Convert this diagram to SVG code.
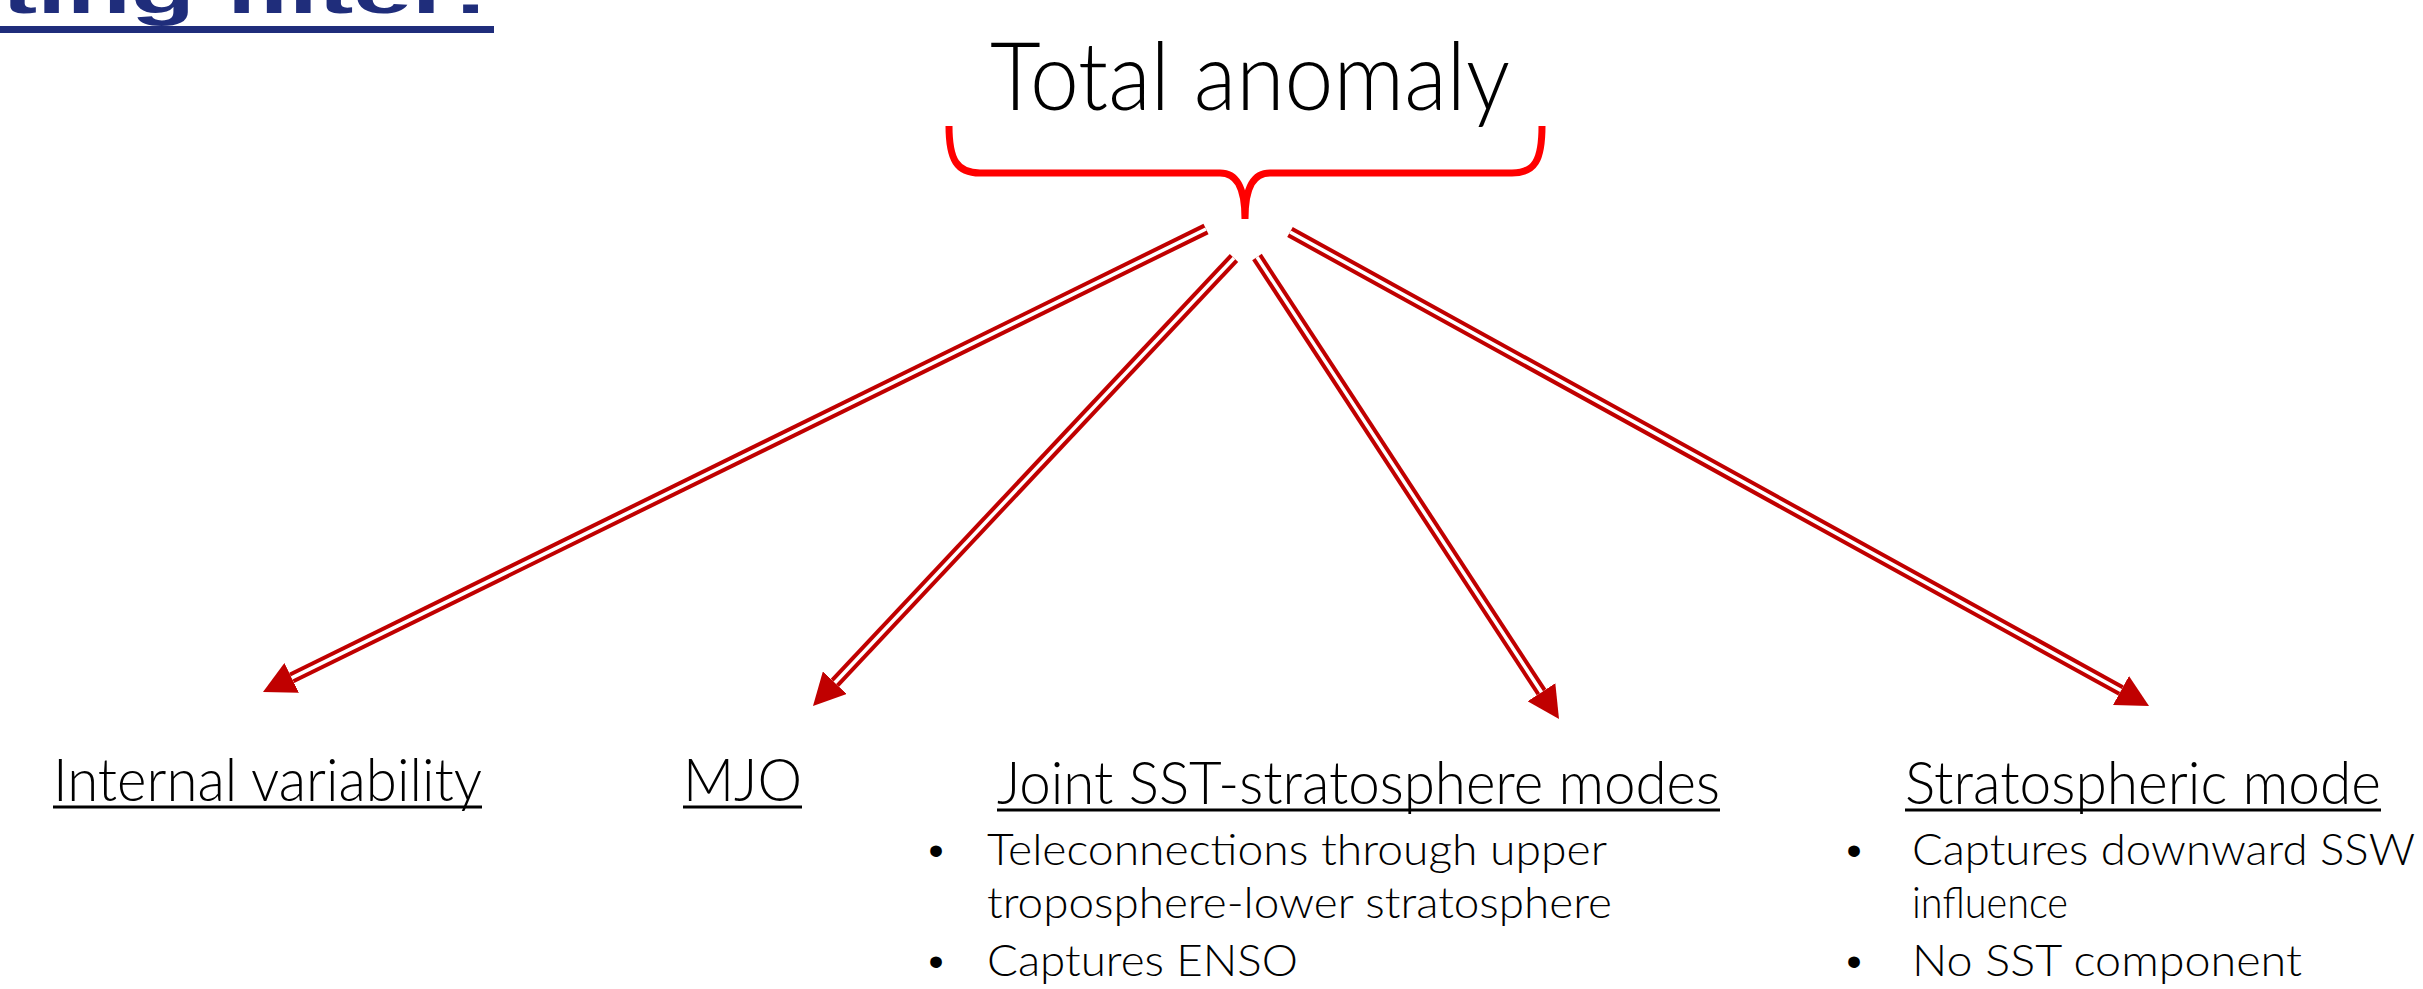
<svg xmlns="http://www.w3.org/2000/svg" width="2423" height="989" viewBox="0 0 2423 989">
<style>
  .lbl { font-family: Lato, "Liberation Sans", sans-serif; font-weight: 300; font-size: 60px; fill: #000; }
  .txt { font-family: Lato, "Liberation Sans", sans-serif; font-weight: 300; font-size: 43px; fill: #000; }
  .bul { font-family: "Liberation Sans", sans-serif; font-size: 43px; fill: #000; text-anchor: middle; }
  .ul { stroke: #000; stroke-width: 3; }
  .dbl-o { stroke: #C00000; stroke-width: 11.5; fill: none; stroke-linecap: butt; }
  .dbl-i { stroke: #FFFFFF; stroke-width: 3.5; fill: none; stroke-linecap: butt; }
</style>
<defs>
  <marker id="head" viewBox="0 0 32 33" refX="0" refY="16.5" markerWidth="32" markerHeight="33" markerUnits="userSpaceOnUse" orient="auto">
    <path d="M0,0 L32,16.5 L0,33 Z" fill="#C00000"/>
  </marker>
</defs>
<rect width="2423" height="989" fill="#FFFFFF"/>

<g id="title">
  <text x="2" y="13" font-family="'Liberation Sans', sans-serif" font-weight="bold" font-size="62" fill="#1F2D7B" textLength="486" lengthAdjust="spacingAndGlyphs">ting filter:</text>
  <rect x="0" y="26" width="494" height="7" fill="#1F2D7B"/>
</g>

<g id="total">
  <text x="990" y="110" font-family="Lato, 'Liberation Sans', sans-serif" font-weight="300" font-size="94" fill="#000" textLength="520" lengthAdjust="spacingAndGlyphs">Total anomaly</text>
  <path d="M949,126 C949,160 957,173 980,173 L1220,173 C1236,173 1245,186 1245,219 C1245,186 1254,173 1270,173 L1512,173 C1535,173 1542,160 1542,126" fill="none" stroke="#FF0000" stroke-width="7"/>
</g>

<g id="connectors">
  <line class="dbl-o" x1="1206" y1="229" x2="291.7" y2="677.9" marker-end="url(#head)"/>
  <line class="dbl-i" x1="1206" y1="229" x2="291.7" y2="677.9"/>
  <line class="dbl-o" x1="1234" y1="258" x2="834.9" y2="682.7" marker-end="url(#head)"/>
  <line class="dbl-i" x1="1234" y1="258" x2="834.9" y2="682.7"/>
  <line class="dbl-o" x1="1257" y1="257" x2="1541.5" y2="692.2" marker-end="url(#head)"/>
  <line class="dbl-i" x1="1257" y1="257" x2="1541.5" y2="692.2"/>
  <line class="dbl-o" x1="1290" y1="232" x2="2121" y2="690.5" marker-end="url(#head)"/>
  <line class="dbl-i" x1="1290" y1="232" x2="2121" y2="690.5"/>
</g>

<g id="internal">
  <text class="lbl" x="53" y="801" textLength="429" lengthAdjust="spacingAndGlyphs">Internal variability</text>
  <line class="ul" x1="53" y1="807" x2="482" y2="807"/>
</g>

<g id="mjo">
  <text class="lbl" x="683" y="801" textLength="119" lengthAdjust="spacingAndGlyphs">MJO</text>
  <line class="ul" x1="683" y1="807" x2="802" y2="807"/>
</g>

<g id="joint">
  <text class="lbl" x="997" y="804" textLength="723" lengthAdjust="spacingAndGlyphs">Joint SST-stratosphere modes</text>
  <line class="ul" x1="997" y1="810" x2="1720" y2="810"/>
  <text class="bul" x="936" y="865">•</text>
  <text class="txt" x="987" y="865" textLength="620" lengthAdjust="spacingAndGlyphs">Teleconnections through upper</text>
  <text class="txt" x="987" y="918" textLength="625" lengthAdjust="spacingAndGlyphs">troposphere-lower stratosphere</text>
  <text class="bul" x="936" y="976">•</text>
  <text class="txt" x="987" y="976" textLength="311" lengthAdjust="spacingAndGlyphs">Captures ENSO</text>
</g>

<g id="strato">
  <text class="lbl" x="1905" y="804" textLength="476" lengthAdjust="spacingAndGlyphs">Stratospheric mode</text>
  <line class="ul" x1="1905" y1="810" x2="2381" y2="810"/>
  <text class="bul" x="1854" y="865">•</text>
  <text class="txt" x="1912" y="865" textLength="503" lengthAdjust="spacingAndGlyphs">Captures downward SSW</text>
  <text class="txt" x="1912" y="918" textLength="156" lengthAdjust="spacingAndGlyphs">influence</text>
  <text class="bul" x="1854" y="976">•</text>
  <text class="txt" x="1912" y="976" textLength="390" lengthAdjust="spacingAndGlyphs">No SST component</text>
</g>
</svg>
